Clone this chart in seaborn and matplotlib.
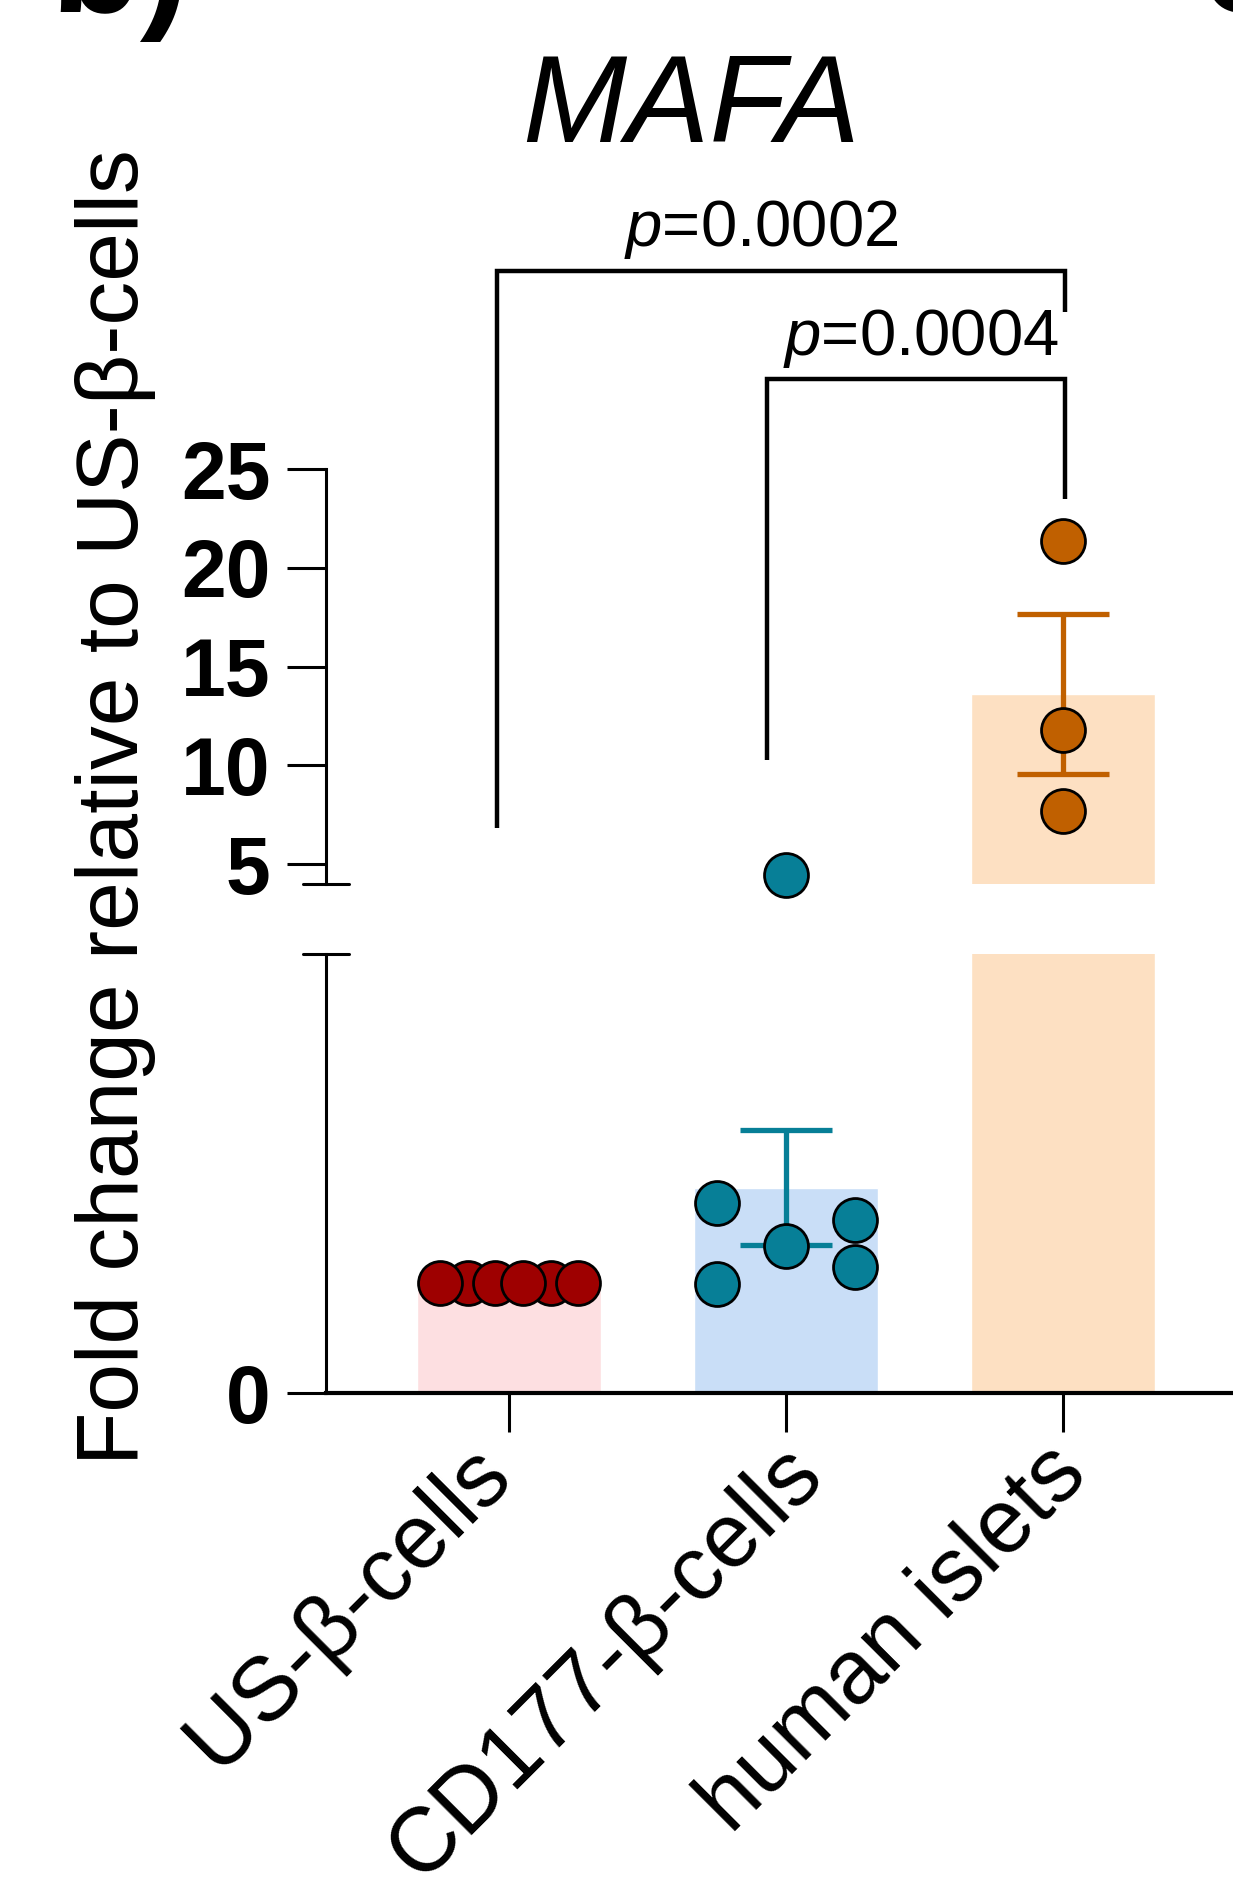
import numpy as np
import pandas as pd
import matplotlib
matplotlib.use("Agg")
import matplotlib.pyplot as plt
import matplotlib.transforms as mtransforms
import seaborn as sns

# ---------------- data ----------------
categories = ["US-β-cells", "CD177-β-cells", "human islets"]
us_values = [1.0, 1.0, 1.0, 1.0, 1.0, 1.0]
cd177_values = [0.99, 1.15, 1.34, 1.58, 1.73, 4.44]
islet_values = [7.70, 11.78, 21.34]
upper_ticks = [5, 10, 15, 20, 25]
lower_ticks = [0]
title = "MAFA"
ylabel = "Fold change relative to US-β-cells"
p_labels = ["0.0002", "0.0004"]
comparisons = [(0, 2), (1, 2)]

# ---------------- style / layout ----------------
bar_colors = ["#FDDFE1", "#C9DEF7", "#FDE0C2"]
point_colors = ["#9E0000", "#077F97", "#C06000"]
point_offsets = [
    [-0.25, -0.15, -0.05, 0.05, 0.15, 0.25],
    [-0.25, 0.25, 0.0, 0.25, -0.25, 0.0],
    [0.0, 0.0, 0.0],
]
draw_order = [[1, 4, 0, 2, 5, 3], [0, 1, 2, 3, 4, 5], [0, 1, 2]]
label_shift_px = [(18, 13), (53, 13), (40, 13)]
break_value = 4.0

W, H, DPI = 1233, 1887, 100
sns.set_style("ticks")
plt.rcParams["font.family"] = ["Liberation Sans", "DejaVu Sans"]
plt.rcParams["mathtext.fontset"] = "custom"
plt.rcParams["mathtext.it"] = "Liberation Sans:italic"
plt.rcParams["mathtext.rm"] = "Liberation Sans"
for key in ["text.color", "axes.labelcolor", "xtick.color", "ytick.color",
            "axes.edgecolor"]:
    plt.rcParams[key] = "black"

groups = [us_values, cd177_values, islet_values]
rows = []
for gi, (cat, vals) in enumerate(zip(categories, groups)):
    for j in draw_order[gi]:
        rows.append({"group": cat, "gidx": gi, "value": vals[j],
                     "xpos": gi + point_offsets[gi][j]})
df = pd.DataFrame(rows)

fig = plt.figure(figsize=(W / DPI, H / DPI), dpi=DPI)
left = 326 / W
ax_top = fig.add_axes([left, 1 - 884 / H, 1 - left, (884 - 469) / H])
ax_bot = fig.add_axes([left, 1 - 1393 / H, 1 - left, (1393 - 954) / H])

for ax in (ax_top, ax_bot):
    sns.barplot(data=df, x="group", y="value", hue="group", order=categories,
                hue_order=categories, palette=bar_colors, legend=False,
                errorbar="se", capsize=0.33, width=0.664, saturation=1,
                err_kws={"linewidth": 3.8, "solid_capstyle": "butt"}, ax=ax)
    for ln in ax.lines:
        xd = np.asarray(ln.get_xdata(), dtype=float)
        gi = int(round(np.nanmean(xd)))
        ln.set_color(point_colors[gi])
        ln.set_zorder(3)

# points: each drawn only on the axis that holds its value
for gi in range(3):
    sub = df[df.gidx == gi]
    hi = sub[sub.value >= break_value]
    lo = sub[sub.value < break_value]
    if len(hi):
        sns.scatterplot(data=hi, x="xpos", y="value", color=point_colors[gi],
                        s=1000, edgecolor="black", linewidth=2, zorder=5,
                        clip_on=False, ax=ax_top, legend=False)
    if len(lo):
        sns.scatterplot(data=lo, x="xpos", y="value", color=point_colors[gi],
                        s=1000, edgecolor="black", linewidth=2, zorder=5,
                        clip_on=False, ax=ax_bot, legend=False)

xlim = (-0.661, 2.613)
for ax in (ax_top, ax_bot):
    ax.set_xlim(*xlim)
    ax.set_xlabel("")
    ax.set_ylabel("")
    ax.spines["top"].set_visible(False)
    ax.spines["right"].set_visible(False)
    ax.spines["left"].set_linewidth(2.2)
    ax.tick_params(axis="y", length=28, width=2.2, pad=12, labelsize=58,
                   colors="black")

ax_top.set_ylim(break_value, 25)
ax_top.set_yticks(upper_ticks)
ax_top.set_yticklabels([str(t) for t in upper_ticks], fontweight="bold")
ax_top.spines["bottom"].set_visible(False)
ax_top.set_xticks([])

ax_bot.set_ylim(0, break_value)
ax_bot.set_yticks(lower_ticks)
ax_bot.set_yticklabels([str(t) for t in lower_ticks], fontweight="bold")
ax_bot.spines["bottom"].set_linewidth(3)
ax_bot.set_xticks(range(len(categories)))
ax_bot.set_xticklabels(categories, rotation=45, ha="right", fontsize=65)
ax_bot.tick_params(axis="x", length=28, width=2.2, pad=8, colors="black")
for lab, (dx, dy) in zip(ax_bot.get_xticklabels(), label_shift_px):
    lab.set_transform(lab.get_transform() +
                      mtransforms.Affine2D().translate(dx, dy))

# axis break marks
half = 23 / (W - 326)
ax_top.plot([-half, half], [0, 0], transform=ax_top.transAxes, color="black",
            lw=2.2, clip_on=False)
ax_bot.plot([-half, half], [1, 1], transform=ax_bot.transAxes, color="black",
            lw=2.2, clip_on=False)

# significance brackets (upper axis data coordinates)
brackets = [
    # x_left, x_right, y_bar, y_left_end, y_right_end, text_x, text_y
    (comparisons[0][0] - 0.043, comparisons[0][1] + 0.007, 35.02, 6.83, 32.95, 0.91, 36.29),
    (comparisons[1][0] - 0.069, comparisons[1][1] + 0.007, 29.56, 10.28, 23.48, 1.486, 30.77),
]
for (xl, xr, yb, yl, yr, tx, ty), p in zip(brackets, p_labels):
    ax_top.plot([xl, xl, xr, xr], [yl, yb, yb, yr], color="black", lw=3.2,
                clip_on=False, solid_joinstyle="miter", solid_capstyle="butt")
    ax_top.text(tx, ty, r"$\mathit{p}$=" + p, ha="center", va="baseline",
                fontsize=47, clip_on=False, color="black")

# titles and labels
fig.text(691 / W, 1 - 142 / H, title, fontsize=90, style="italic",
         ha="center", va="baseline", color="black")
fig.text(138 / W, 1 - 807 / H, ylabel, fontsize=63, rotation=90,
         rotation_mode="anchor", ha="center", va="baseline", color="black")
fig.text(50 / W, 1 - 12 / H, "b)", fontsize=106, fontweight="bold",
         va="baseline", ha="left", color="black")
fig.text(1200 / W, 1 - 12 / H, "c)", fontsize=106, fontweight="bold",
         va="baseline", ha="left", color="black")

fig.savefig("out.png", dpi=DPI)
